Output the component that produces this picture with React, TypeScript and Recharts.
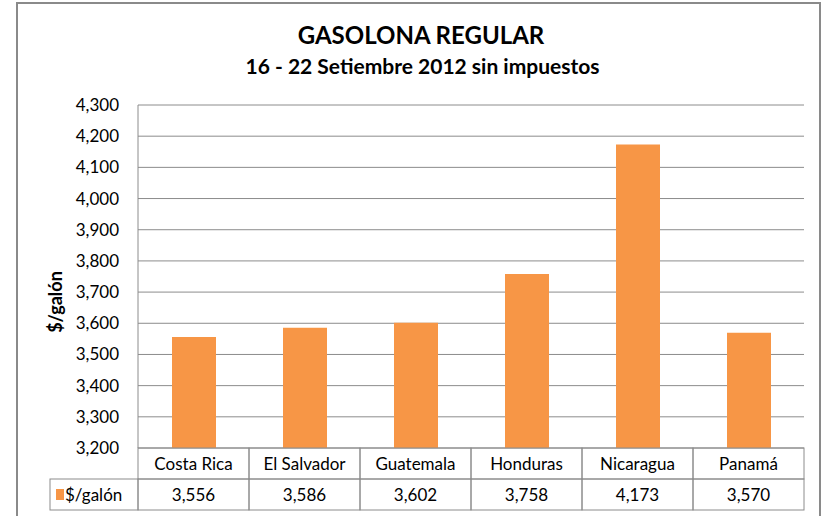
import React from 'react';
import { BarChart, Bar, XAxis, YAxis, CartesianGrid } from 'recharts';

const paises = ['Costa Rica', 'El Salvador', 'Guatemala', 'Honduras', 'Nicaragua', 'Panamá'];
const precios = [3.556, 3.586, 3.602, 3.758, 4.173, 3.57];
const yTicks = [3.2, 3.3, 3.4, 3.5, 3.6, 3.7, 3.8, 3.9, 4.0, 4.1, 4.2, 4.3];

const serieNombre = '$/galón';
const naranja = '#F79646';
const gris = '#8c8c8c';
const fuente = 'Lato, "Open Sans", sans-serif';

const data = paises.map((pais, i) => ({ pais, precio: precios[i] }));

const fmt = (v: number) => v.toFixed(3).replace('.', ',');

const W = 825;
const H = 516;
const PLOT_LEFT = 138;
const PLOT_RIGHT = 804;
const PLOT_TOP = 105;
const TABLE_H = 68;
const ROW_H = 31;
const band = (PLOT_RIGHT - PLOT_LEFT) / paises.length;

const TablaTick = (props: any) => {
  const { x, y, payload, index } = props;
  const x0 = x - band / 2;
  const top = y;
  return (
    <g>
      <rect x={x0} y={top} width={band} height={ROW_H} fill="none" stroke={gris} strokeWidth={1} />
      <rect x={x0} y={top + ROW_H} width={band} height={ROW_H} fill="none" stroke={gris} strokeWidth={1} />
      <text x={x} y={top + 22} textAnchor="middle" fontSize={17} fill="#000" fontFamily={fuente}>
        {payload.value}
      </text>
      <text x={x} y={top + ROW_H + 22} textAnchor="middle" fontSize={17} fill="#000" fontFamily={fuente}>
        {fmt(precios[index])}
      </text>
      {index === 0 && (
        <g>
          <rect x={50} y={top + ROW_H} width={x0 - 50} height={ROW_H} fill="none" stroke={gris} strokeWidth={1} />
          <rect x={56} y={top + ROW_H + 10} width={8} height={11} fill={naranja} />
          <text x={65} y={top + ROW_H + 22} fontSize={17} fill="#000" fontFamily={fuente}>
            {serieNombre}
          </text>
        </g>
      )}
    </g>
  );
};

export default function App() {
  return (
    <div style={{ position: 'absolute', left: 0, top: 0, width: W, height: H, background: '#fff', overflow: 'hidden' }}>
      <div
        style={{
          position: 'absolute',
          left: 16,
          top: 2,
          width: 805,
          height: 530,
          border: '2px solid #8a8a8a',
          boxSizing: 'border-box',
        }}
      />
      <div
        style={{
          position: 'absolute',
          left: 0,
          width: 842,
          top: 20,
          textAlign: 'center',
          fontFamily: fuente,
          fontWeight: 700,
          fontSize: 24,
          color: '#000',
        }}
      >
        GASOLONA REGULAR
      </div>
      <div
        style={{
          position: 'absolute',
          left: 0,
          width: 845,
          top: 53,
          textAlign: 'center',
          fontFamily: fuente,
          fontWeight: 700,
          fontSize: 21,
          color: '#000',
        }}
      >
        16 - 22 Setiembre 2012 sin impuestos
      </div>
      <div
        style={{
          position: 'absolute',
          left: 55 - 60,
          top: 302 - 12,
          width: 120,
          height: 24,
          lineHeight: '24px',
          textAlign: 'center',
          transform: 'rotate(-90deg)',
          fontFamily: fuente,
          fontWeight: 700,
          fontSize: 18,
          color: '#000',
        }}
      >
        {serieNombre}
      </div>
      <div style={{ position: 'absolute', left: 0, top: 0 }}>
        <BarChart
          width={W}
          height={H}
          data={data}
          margin={{ top: PLOT_TOP, right: W - PLOT_RIGHT, left: 0, bottom: 0 }}
          barCategoryGap={0}
        >
          <CartesianGrid vertical={false} stroke={gris} strokeWidth={1} />
          <YAxis
            width={PLOT_LEFT}
            domain={[3.2, 4.3]}
            ticks={yTicks}
            tickFormatter={fmt}
            axisLine={{ stroke: gris }}
            tickLine={false}
            tickSize={0}
            tickMargin={19}
            tick={{ fontSize: 17, fill: '#000', fontFamily: fuente }}
            interval={0}
          />
          <XAxis
            dataKey="pais"
            height={TABLE_H}
            axisLine={false}
            tickLine={false}
            tickSize={0}
            tickMargin={0}
            interval={0}
            tick={<TablaTick />}
          />
          <Bar dataKey="precio" fill={naranja} barSize={44} isAnimationActive={false} />
        </BarChart>
      </div>
    </div>
  );
}
